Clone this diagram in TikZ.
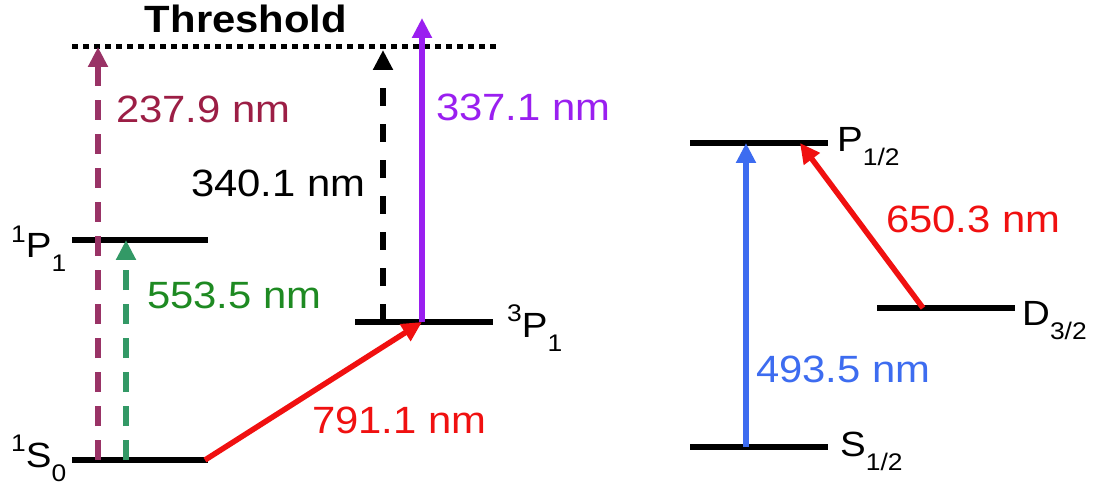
\documentclass[tikz,border=0pt]{standalone}
\usepackage{fontspec}
\setmainfont{Liberation Sans}[FakeStretch=1.1]
\usetikzlibrary{arrows.meta}
\definecolor{maroonA}{HTML}{993366}
\definecolor{maroonT}{HTML}{9C1E45}
\definecolor{greenA}{HTML}{339966}
\definecolor{greenT}{HTML}{1E8A22}
\definecolor{purpleA}{HTML}{9A1FF0}
\definecolor{blueA}{HTML}{3D6CF0}
\definecolor{redA}{HTML}{F01010}
\newcommand\lvsup[1]{\raisebox{0.45em}{\fontsize{24}{24}\selectfont #1}}
\newcommand\lvsub[1]{\raisebox{-0.4em}{\fontsize{24}{24}\selectfont #1}}
\begin{document}
\begin{tikzpicture}[x=1pt,y=-1pt,
  level/.style={line width=6pt},
  tr/.style={line width=5.5pt,-{Triangle[length=20pt,width=19pt]}},
  dsh/.style={dash pattern=on 20pt off 14pt},
  wl/.style={font=\fontsize{38}{38}\selectfont,inner sep=0pt,anchor=base west},
  lv/.style={font=\fontsize{35}{35}\selectfont,inner sep=0pt,anchor=base west}]
\useasboundingbox[fill=white] (0,0) rectangle (1097,486);

% threshold
\coordinate (thl) at (72,47);
\coordinate (thr) at (500,47);
\draw[line width=5pt,dash pattern=on 6pt off 5pt] (thl) -- (thr);
\node[font=\bfseries\fontsize{38}{38}\selectfont,inner sep=0pt,anchor=base] (thr-t) at (246,33) {Threshold};

% levels
\coordinate (p1l) at (72,240);  \coordinate (p1r) at (208,240);
\coordinate (s0l) at (72,460);  \coordinate (s0r) at (208,460);
\coordinate (tpl) at (355,322); \coordinate (tpr) at (493,322);
\coordinate (phl) at (690,143); \coordinate (phr) at (828,143);
\coordinate (shl) at (690,447); \coordinate (shr) at (828,447);
\coordinate (dl) at (877,308);  \coordinate (dr) at (1015,308);
\draw[level] (p1l) -- (p1r);
\draw[level] (s0l) -- (s0r);
\draw[level] (tpl) -- (tpr);
\draw[level] (phl) -- (phr);
\draw[level] (shl) -- (shr);
\draw[level] (dl) -- (dr);

\node[lv] (lp1) at (11,258) {\lvsup{1}P\lvsub{1}};
\node[lv] (ls0) at (11,467) {\lvsup{1}S\lvsub{0}};
\node[lv] (ltp) at (507,337) {\lvsup{3}P\lvsub{1}};
\node[lv] (lph) at (837,152) {P\lvsub{1/2}};
\node[lv] (ld) at (1022,325) {D\lvsub{3/2}};
\node[lv] (lsh) at (840,456) {S\lvsub{1/2}};

% arrow end points
\coordinate (a1s) at (98,460);  \coordinate (a1e) at (98,47);
\coordinate (a2s) at (126,460); \coordinate (a2e) at (126,240);
\coordinate (a3s) at (383,322); \coordinate (a3e) at (383,50);
\coordinate (a4s) at (422,322); \coordinate (a4e) at (422,18);
\coordinate (a5s) at (205,460); \coordinate (a5e) at (422,322);
\coordinate (a6s) at (746,447); \coordinate (a6e) at (746,143);
\coordinate (a7s) at (923,308); \coordinate (a7e) at (800,143);

\draw[tr,dsh,maroonA] (a1s) -- (a1e);
\draw[tr,dsh,greenA] (a2s) -- (a2e);
\draw[tr,dash pattern=on 18pt off 18pt,black] (a3s) -- (a3e);
\draw[tr,purpleA] (a4s) -- (a4e);
\draw[tr,redA] (a5s) -- (a5e);
\draw[tr,blueA] (a6s) -- (a6e);
\draw[tr,redA] (a7s) -- (a7e);

% wavelength labels
\node[wl,text=maroonT] (w1) at (116,123) {237.9 nm};
\node[wl,text=black] (w2) at (191,197) {340.1 nm};
\node[wl,text=purpleA] (w3) at (436,121) {337.1 nm};
\node[wl,text=greenT] (w4) at (147,308) {553.5 nm};
\node[wl,text=redA] (w5) at (312,433) {791.1 nm};
\node[wl,text=redA] (w6) at (886,233) {650.3 nm};
\node[wl,text=blueA] (w7) at (756,382) {493.5 nm};
\end{tikzpicture}
\end{document}
